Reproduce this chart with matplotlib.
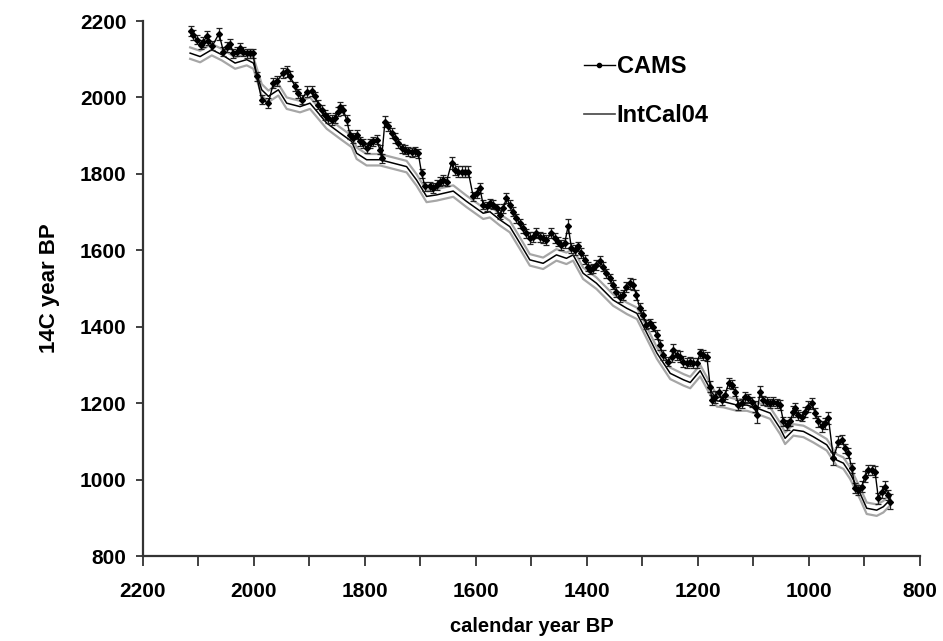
import matplotlib
matplotlib.use("Agg")
import matplotlib.pyplot as plt
from matplotlib.lines import Line2D
import numpy as np

plt.rcParams['font.family'] = ['Liberation Sans', 'DejaVu Sans']
plt.rcParams['font.weight'] = 'bold'

cal_bp = [2114, 2109, 2103, 2096, 2091, 2085, 2082, 2075, 2063, 2055,
          2049, 2043, 2037, 2031, 2025, 2019, 2013, 2007, 2002, 1995,
          1986, 1974, 1965, 1959, 1947, 1941, 1935, 1926, 1920, 1914,
          1905, 1896, 1890, 1884, 1878, 1872, 1866, 1860, 1854, 1848,
          1845, 1839, 1833, 1827, 1821, 1815, 1809, 1803, 1797, 1791,
          1785, 1779, 1773, 1770, 1764, 1758, 1752, 1746, 1740, 1734,
          1728, 1722, 1716, 1710, 1704, 1698, 1692, 1683, 1677, 1671,
          1665, 1659, 1653, 1644, 1638, 1632, 1626, 1620, 1614, 1605,
          1599, 1593, 1587, 1581, 1575, 1569, 1563, 1557, 1551, 1545,
          1539, 1533, 1527, 1521, 1515, 1509, 1503, 1497, 1491, 1485,
          1479, 1473, 1464, 1458, 1452, 1446, 1440, 1434, 1428, 1422,
          1416, 1410, 1404, 1398, 1395, 1389, 1383, 1377, 1371, 1365,
          1359, 1353, 1347, 1341, 1335, 1329, 1323, 1317, 1311, 1305,
          1299, 1293, 1287, 1281, 1274, 1269, 1263, 1254, 1247, 1245,
          1238, 1232, 1227, 1220, 1214, 1209, 1202, 1196, 1191, 1184,
          1178, 1175, 1169, 1163, 1157, 1151, 1145, 1139, 1133, 1127,
          1121, 1115, 1109, 1103, 1097, 1094, 1088, 1082, 1076, 1070,
          1064, 1058, 1052, 1046, 1040, 1034, 1028, 1025, 1019, 1013,
          1007, 1001, 995, 989, 983, 977, 971, 965, 956, 947,
          941, 935, 929, 923, 917, 911, 905, 899, 893, 887,
          881, 875, 869, 863, 857, 854]

c14_bp = [2173, 2164, 2151, 2138, 2146, 2160, 2149, 2135, 2167, 2120,
          2132, 2140, 2116, 2120, 2129, 2120, 2116, 2116, 2116, 2055,
          1994, 1985, 2038, 2042, 2064, 2068, 2055, 2029, 2011, 1994,
          2015, 2016, 2003, 1981, 1967, 1954, 1946, 1941, 1946, 1963,
          1976, 1967, 1941, 1902, 1894, 1902, 1885, 1880, 1867, 1880,
          1885, 1889, 1863, 1841, 1937, 1924, 1907, 1894, 1880, 1867,
          1863, 1859, 1856, 1859, 1854, 1802, 1767, 1767, 1763, 1771,
          1780, 1784, 1780, 1828, 1811, 1806, 1806, 1806, 1806, 1741,
          1750, 1763, 1719, 1715, 1723, 1719, 1710, 1693, 1710, 1737,
          1719, 1701, 1684, 1671, 1658, 1645, 1632, 1636, 1645, 1636,
          1632, 1627, 1645, 1632, 1623, 1614, 1619, 1664, 1606, 1601,
          1610, 1593, 1575, 1557, 1549, 1553, 1562, 1571, 1557, 1540,
          1527, 1510, 1492, 1479, 1483, 1505, 1514, 1510, 1483, 1449,
          1431, 1405, 1409, 1400, 1379, 1352, 1326, 1309, 1322, 1339,
          1326, 1322, 1309, 1305, 1309, 1305, 1305, 1331, 1326, 1322,
          1243, 1208, 1217, 1230, 1208, 1222, 1252, 1248, 1230, 1195,
          1200, 1217, 1213, 1204, 1191, 1169, 1230, 1208, 1204, 1200,
          1204, 1200, 1195, 1152, 1143, 1152, 1178, 1187, 1169, 1165,
          1178, 1191, 1200, 1174, 1152, 1139, 1147, 1161, 1056, 1099,
          1104, 1082, 1069, 1030, 978, 973, 981, 1008, 1025, 1025,
          1021, 951, 968, 981, 960, 942]

c14_err = [13, 13, 12, 12, 13, 13, 12, 12, 16, 12,
           13, 14, 12, 12, 13, 12, 12, 12, 12, 12,
           12, 13, 13, 13, 14, 15, 13, 12, 12, 12,
           14, 13, 12, 12, 12, 12, 12, 12, 12, 12,
           13, 12, 12, 12, 12, 12, 12, 12, 12, 12,
           12, 12, 12, 12, 15, 13, 12, 12, 12, 12,
           12, 12, 12, 12, 12, 12, 12, 12, 12, 12,
           12, 12, 12, 15, 14, 14, 14, 14, 14, 12,
           12, 13, 12, 12, 12, 12, 12, 12, 12, 14,
           13, 12, 12, 12, 12, 12, 15, 13, 14, 13,
           13, 12, 14, 13, 12, 12, 13, 18, 12, 12,
           12, 12, 12, 12, 12, 12, 13, 13, 12, 12,
           12, 12, 13, 13, 13, 13, 14, 14, 12, 12,
           12, 12, 12, 12, 12, 12, 12, 12, 14, 15,
           13, 14, 14, 12, 12, 12, 12, 12, 12, 12,
           14, 14, 16, 13, 12, 12, 13, 12, 12, 12,
           12, 13, 12, 13, 14, 20, 14, 12, 12, 12,
           12, 12, 12, 13, 13, 12, 14, 14, 14, 12,
           13, 14, 14, 13, 14, 14, 14, 16, 17, 14,
           12, 12, 13, 13, 14, 14, 14, 14, 14, 14,
           14, 15, 16, 16, 14, 20]

# IntCal04 calibration curve (mean and 1 sigma)
intcal_cal = [2115, 2097, 2076, 2058, 2034, 2013, 2001, 1986, 1974, 1956,
              1941, 1917, 1899, 1869, 1845, 1824, 1815, 1797, 1773, 1749,
              1725, 1707, 1689, 1671, 1641, 1617, 1587, 1575, 1557, 1539,
              1521, 1503, 1479, 1455, 1437, 1425, 1407, 1383, 1353, 1328,
              1310, 1292, 1274, 1250, 1226, 1214, 1196, 1178, 1166, 1154,
              1130, 1112, 1094, 1070, 1052, 1043, 1028, 1010, 992, 968,
              950, 938, 926, 908, 896, 878, 866, 854]
intcal_c14 = [2116, 2107, 2125, 2112, 2090, 2099, 2090, 2020, 2003, 2020,
              1985, 1976, 1985, 1933, 1907, 1885, 1854, 1837, 1837, 1828,
              1819, 1784, 1741, 1745, 1755, 1728, 1697, 1701, 1680, 1662,
              1619, 1575, 1566, 1588, 1579, 1588, 1540, 1514, 1470, 1448,
              1435, 1383, 1331, 1278, 1261, 1254, 1285, 1237, 1206, 1204,
              1195, 1195, 1187, 1174, 1134, 1108, 1130, 1126, 1112, 1091,
              1051, 1043, 1017, 964, 925, 920, 929, 947]
intcal_sigma = [15, 15, 15, 15, 15, 15, 15, 15, 15, 15,
                15, 15, 15, 15, 15, 15, 15, 15, 15, 15,
                15, 15, 15, 15, 15, 15, 15, 15, 15, 15,
                15, 15, 15, 15, 15, 15, 15, 15, 15, 15,
                15, 15, 15, 15, 15, 15, 15, 15, 15, 15,
                15, 15, 15, 15, 15, 15, 15, 15, 15, 15,
                15, 15, 15, 15, 15, 15, 15, 15]

fig = plt.figure(figsize=(9.43, 6.41), dpi=100)
ax = fig.add_axes([0.1516, 0.1326, 0.8240, 0.8346])

ic = np.array(intcal_c14)
sg = np.array(intcal_sigma)
ax.plot(intcal_cal, ic + sg, color='#a6a6a6', lw=1.6, zorder=1)
ax.plot(intcal_cal, ic - sg, color='#a6a6a6', lw=1.6, zorder=1)
ax.plot(intcal_cal, ic, color='black', lw=1.1, zorder=2)

ax.errorbar(cal_bp, c14_bp, yerr=c14_err, fmt='-', color='black', lw=1.0,
            marker='D', ms=3.0, elinewidth=0.9, capsize=2.5, capthick=0.9,
            ecolor='#222222', zorder=3)

ax.set_xlim(2200, 800)
ax.set_ylim(800, 2200)
ax.set_xticks(np.arange(800, 2201, 200))
ax.set_xticks(np.arange(900, 2200, 200), minor=True)
ax.set_yticks(np.arange(800, 2201, 200))

for side in ['top', 'right']:
    ax.spines[side].set_visible(False)
for side in ['left', 'bottom']:
    ax.spines[side].set_linewidth(1.6)
    ax.spines[side].set_color('#333333')

ax.tick_params(axis='x', which='both', direction='out', length=7, width=1.3,
               color='#333333', labelsize=15, pad=12)
ax.tick_params(axis='y', which='both', direction='out', length=5, width=1.3,
               color='#333333', labelsize=15, pad=7)

ax.set_xlabel('calendar year BP', fontsize=14.5, fontweight='bold', labelpad=11)
ax.set_ylabel('14C year BP', fontsize=16, fontweight='bold', labelpad=14)

handles = [Line2D([], [], color='black', lw=1.0, marker='o', ms=3),
           Line2D([], [], color='#444444', lw=1.2)]
ax.legend(handles, ['CAMS', 'IntCal04'], loc='upper left',
          bbox_to_anchor=(0.54, 0.976), frameon=False,
          handlelength=1.3, handletextpad=0.1, labelspacing=1.1,
          prop={'weight': 'bold', 'size': 17})

fig.savefig('out.png', dpi=100)
